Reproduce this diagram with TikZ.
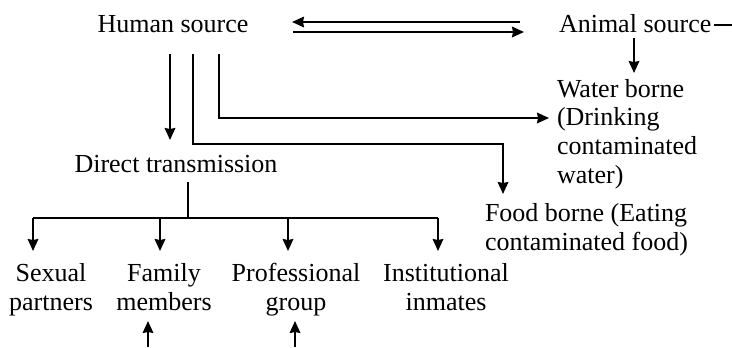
\documentclass[tikz,border=0pt]{standalone}
\usepackage{fontspec}
\setmainfont{Liberation Serif}
\usetikzlibrary{arrows.meta}
\begin{document}
\begin{tikzpicture}[x=0.75pt,y=-0.75pt,
  txt/.style={inner sep=0pt, outer sep=0pt, font=\fontsize{19.5pt}{21.5pt}\selectfont},
  ln/.style={line width=1.5pt},
  arr/.style={ln,-{Stealth[length=9pt,width=8pt,inset=0.8pt]}}]
\useasboundingbox (0,0) rectangle (732,347);
% nodes (multi-line nodes: base = last line's baseline)
\node[txt,anchor=base] (human) at (173,32) {Human source};
\node[txt,anchor=base west] (animal) at (559,32) {Animal source};
\node[txt,anchor=base west,align=left] (water) at (557,183) {Water borne\\(Drinking\\contaminated\\water)};
\node[txt,anchor=base west,align=left] (food) at (485,250) {Food borne (Eating\\contaminated food)};
\node[txt,anchor=base] (direct) at (176,172) {Direct transmission};
\node[txt,anchor=base,align=center] (sexual) at (51,310) {Sexual\\partners};
\node[txt,anchor=base,align=center] (family) at (164,310) {Family\\members};
\node[txt,anchor=base,align=center] (prof) at (296,310) {Professional\\group};
\node[txt,anchor=base,align=center] (inst) at (446,310) {Institutional\\inmates};
% coordinates
\coordinate (hA) at (292,22);
\coordinate (aA) at (520,22);
\coordinate (hB) at (293,32);
\coordinate (aB) at (524,32);
\coordinate (dashS) at (714,25);
\coordinate (dashE) at (732,25);
\coordinate (anS) at (634,38);
\coordinate (anE) at (634,73);
\coordinate (h1) at (170,54);
\coordinate (h1e) at (170,140);
\coordinate (h2) at (193,54);
\coordinate (h2c) at (193,144);
\coordinate (h2d) at (503,144);
\coordinate (h2e) at (503,194);
\coordinate (h3) at (219,54);
\coordinate (h3c) at (219,118);
\coordinate (h3e) at (549,118);
\coordinate (dt) at (188,182);
\coordinate (bar) at (188,218);
\coordinate (b1) at (33,218);
\coordinate (b2) at (160,218);
\coordinate (b3) at (288,218);
\coordinate (b4) at (438,218);
\coordinate (u1) at (148,347);
\coordinate (u2) at (295,347);
% connectors
\draw[arr] (aA) -- (hA);
\draw[arr] (hB) -- (aB);
\draw[ln] (dashS) -- (dashE);
\draw[arr] (anS) -- (anE);
\draw[arr] (h1) -- (h1e);
\draw[arr] (h2) -- (h2c) -- (h2d) -- (h2e);
\draw[arr] (h3) -- (h3c) -- (h3e);
\draw[ln] (dt) -- (bar);
\draw[ln] (b1) -- (b4);
\draw[arr] (b1) -- (b1 |- 0,251);
\draw[arr] (b2) -- (b2 |- 0,251);
\draw[arr] (b3) -- (b3 |- 0,251);
\draw[arr] (b4) -- (b4 |- 0,251);
\draw[arr] (u1) -- (u1 |- 0,321);
\draw[arr] (u2) -- (u2 |- 0,321);
\end{tikzpicture}
\end{document}
